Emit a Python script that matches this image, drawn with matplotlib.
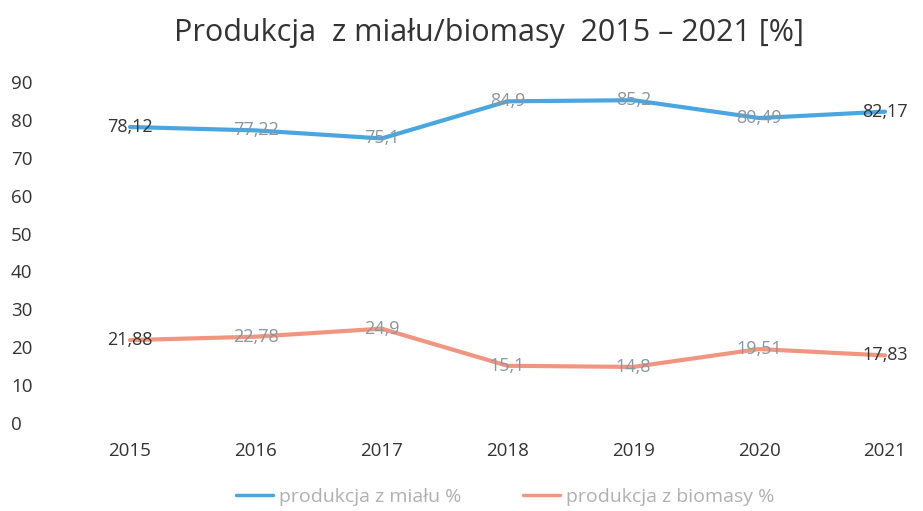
import matplotlib
matplotlib.use("Agg")
import matplotlib.pyplot as plt

years = ["2015", "2016", "2017", "2018", "2019", "2020", "2021"]
mial = [78.12, 77.22, 75.1, 84.9, 85.2, 80.49, 82.17]
biomasa = [21.88, 22.78, 24.9, 15.1, 14.8, 19.51, 17.83]
series_names = ["produkcja z miału %", "produkcja z biomasy %"]
yticks = [0, 10, 20, 30, 40, 50, 60, 70, 80, 90]
title = "Produkcja  z miału/biomasy  2015 – 2021 [%]"

plt.rcParams['font.family'] = ['Open Sans', 'DejaVu Sans']
W, H = 923, 511
fig = plt.figure(figsize=(W / 100, H / 100), dpi=100)
left_px, right_px, top_px, bot_px = 60, 923, 82, 423
ax = fig.add_axes([left_px / W, 1 - bot_px / H, (right_px - left_px) / W, (bot_px - top_px) / H])

x = list(range(len(years)))
blue = "#4aa6df"
orange = "#f0957f"
ax.plot(x, mial, color=blue, lw=3, label=series_names[0], solid_capstyle='round')
ax.plot(x, biomasa, color=orange, lw=3, label=series_names[1], solid_capstyle='round')

def fmt(v):
    s = ("%.2f" % v).rstrip('0').rstrip('.')
    return s.replace('.', ',')

for series in (mial, biomasa):
    for i, v in enumerate(series):
        col = "#333333" if i in (0, len(series) - 1) else "#8a96a0"
        ax.text(i, v, fmt(v), ha='center', va='center', fontsize=13, color=col)

ppu = (885 - 130) / 6
ax.set_xlim(-(130 - left_px) / ppu, 6 + (right_px - 885) / ppu)
ax.set_ylim(0, 90)
ax.set_xticks(x)
ax.set_xticklabels(years, fontsize=13.5, color="#333333")
ax.set_yticks(yticks)
ax.set_yticklabels([str(t) for t in yticks], fontsize=13.5, color="#333333", ha='left')
ax.tick_params(axis='y', length=0, pad=(left_px - 11) * 0.72)
ax.tick_params(axis='x', length=0, pad=14)
for s in ax.spines.values():
    s.set_visible(False)

fig.text(0.5 + 28 / W, 1 - 33 / H, title, ha='center', va='center', fontsize=22, color="#333333")

leg = fig.legend(loc='center', bbox_to_anchor=(505 / W, 1 - 497 / H), ncol=2, frameon=False,
                 fontsize=14, handlelength=1.9, handletextpad=0.3, columnspacing=3.2)
for t in leg.get_texts():
    t.set_color("#b0b0b0")
for l in leg.get_lines():
    l.set_linewidth(2.5)

fig.savefig("out.png", dpi=100)
